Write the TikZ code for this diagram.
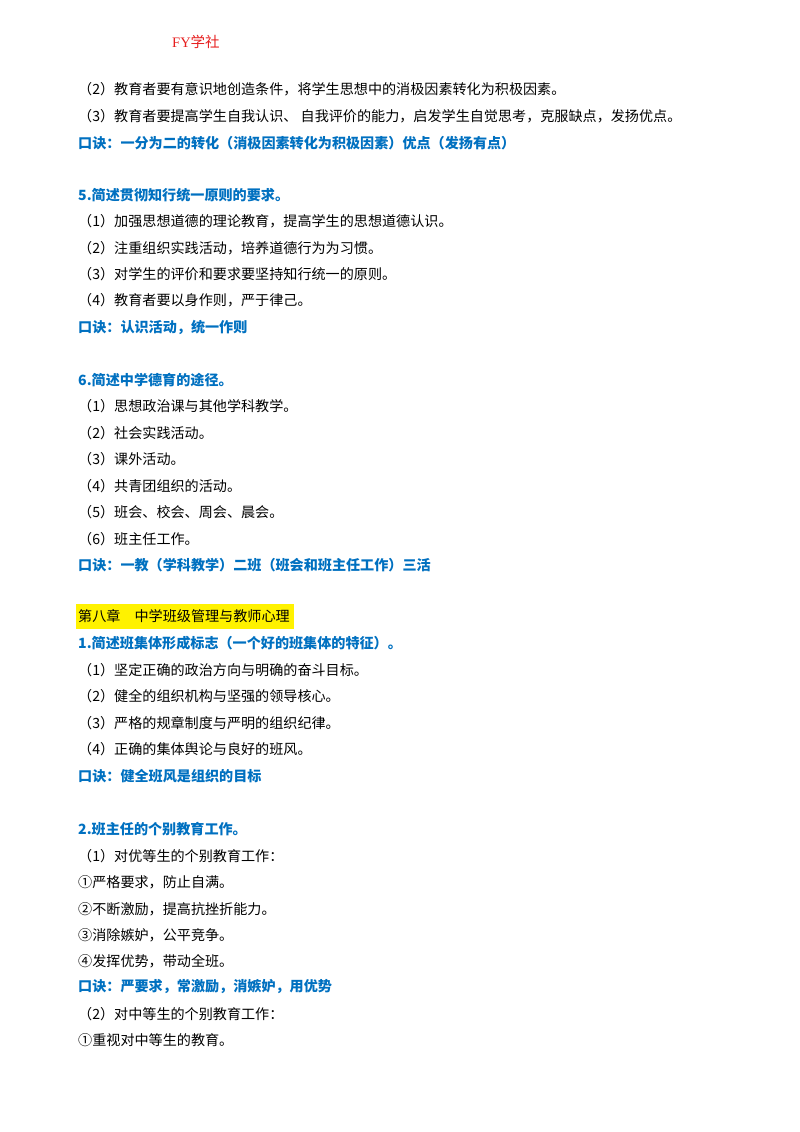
\documentclass[tikz,border=0pt]{standalone}
\usepackage{fontspec}
\setmainfont{Noto Sans CJK SC}
\newfontfamily\cjk{Noto Sans CJK SC}
\newfontfamily\hdr{Liberation Serif}
\begin{document}
\begin{tikzpicture}[x=1pt,y=-1pt,
  t/.style={anchor=west,inner sep=0pt,font=\fontsize{14.1}{16}\selectfont},
  b/.style={t,text={rgb,255:red,0;green,112;blue,192},font=\fontsize{14.1}{16}\selectfont\bfseries}]
\useasboundingbox (0,0) rectangle (800,1132);
\node[anchor=west,inner sep=0pt,text={rgb,255:red,230;green,30;blue,30},font=\fontsize{14.5}{16}\selectfont] (h) at (172,42) {{\hdr FY}学社};
\node[t] (a1) at (78,89) {（2）教育者要有意识地创造条件，将学生思想中的消极因素转化为积极因素。};
\node[t] (a2) at (78,116) {（3）教育者要提高学生自我认识、 自我评价的能力，启发学生自觉思考，克服缺点，发扬优点。};
\node[b] (a3) at (78,143) {口诀：一分为二的转化（消极因素转化为积极因素）优点（发扬有点）};
\node[b] (b0) at (78,195) {5.简述贯彻知行统一原则的要求。};
\node[t] (b1) at (78,221) {（1）加强思想道德的理论教育，提高学生的思想道德认识。};
\node[t] (b2) at (78,248) {（2）注重组织实践活动，培养道德行为为习惯。};
\node[t] (b3) at (78,274) {（3）对学生的评价和要求要坚持知行统一的原则。};
\node[t] (b4) at (78,300) {（4）教育者要以身作则，严于律己。};
\node[b] (b5) at (78,327) {口诀：认识活动，统一作则};
\node[b] (c0) at (78,380) {6.简述中学德育的途径。};
\node[t] (c1) at (78,406) {（1）思想政治课与其他学科教学。};
\node[t] (c2) at (78,433) {（2）社会实践活动。};
\node[t] (c3) at (78,459) {（3）课外活动。};
\node[t] (c4) at (78,486) {（4）共青团组织的活动。};
\node[t] (c5) at (78,512) {（5）班会、校会、周会、晨会。};
\node[t] (c6) at (78,539) {（6）班主任工作。};
\node[b] (c7) at (78,565) {口诀：一教（学科教学）二班（班会和班主任工作）三活};
\fill[yellow] (76,604) rectangle (294,629);
\node[t] (d) at (78,616) {第八章\quad 中学班级管理与教师心理};
\node[b] (e0) at (78,643) {1.简述班集体形成标志（一个好的班集体的特征）。};
\node[t] (e1) at (78,670) {（1）坚定正确的政治方向与明确的奋斗目标。};
\node[t] (e2) at (78,696) {（2）健全的组织机构与坚强的领导核心。};
\node[t] (e3) at (78,723) {（3）严格的规章制度与严明的组织纪律。};
\node[t] (e4) at (78,749) {（4）正确的集体舆论与良好的班风。};
\node[b] (e5) at (78,776) {口诀：健全班风是组织的目标};
\node[b] (f0) at (78,829) {2.班主任的个别教育工作。};
\node[t] (f1) at (78,856) {（1）对优等生的个别教育工作：};
\node[t] (f2) at (78,882) {①严格要求，防止自满。};
\node[t] (f3) at (78,909) {②不断激励，提高抗挫折能力。};
\node[t] (f4) at (78,935) {③消除嫉妒，公平竞争。};
\node[t] (f5) at (78,961) {④发挥优势，带动全班。};
\node[b] (f6) at (78,987) {口诀：严要求，常激励，消嫉妒，用优势};
\node[t] (f7) at (78,1014) {（2）对中等生的个别教育工作：};
\node[t] (f8) at (78,1040) {①重视对中等生的教育。};
\end{tikzpicture}
\end{document}
